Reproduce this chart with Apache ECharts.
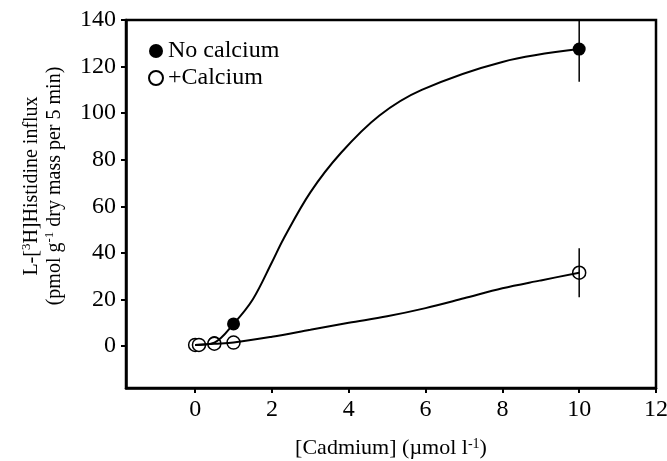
<!DOCTYPE html>
<html>
<head>
<meta charset="utf-8">
<script src="https://cdn.jsdelivr.net/npm/echarts@6/dist/echarts.min.js"></script>
<style>
  html, body { margin: 0; padding: 0; background: #fff; }
  #chart { width: 667px; height: 461px; }
</style>
</head>
<body>
<div id="chart"></div>
<script>
// axis ticks
var xTicks = [0, 2, 4, 6, 8, 10, 12];
var yTicks = [0, 20, 40, 60, 80, 100, 120, 140];

var noCaX = [0, 0.1, 0.5, 1, 10];
var noCaY = [0.5, 0.5, 1.5, 9.5, 127.5];
var caX = [0, 0.1, 0.5, 1, 10];
var caY = [0.5, 0.5, 1, 1.5, 31.5];

// error bars at 10 umol
var errX = [10, 10];
var errMean = [127.5, 31.5];
var errSd = [14, 10.5];

// fitted curves
var noCaCurveX = [0, 0.5, 1, 1.5, 2, 2.3, 3, 3.8, 4.8, 5.9, 8, 10];
var noCaCurveY = [0.5, 1.5, 9.5, 20, 36, 46, 66, 83, 99, 110, 122, 127.5];
var caCurveX = [0, 0.5, 1, 2, 3, 4, 5, 6, 7, 8, 9, 10];
var caCurveY = [0.5, 1, 1.5, 4, 7, 10, 12.8, 16.3, 20.5, 24.8, 28.2, 31.5];

var xMin = -1.8, xMax = 12, yMin = -18, yMax = 140;

function pairs(xs, ys){
    var out = [];
    for(var i=0;i<xs.length;i++){
        out.push([xs[i], ys[i]]);
    }
    return out;
}

var errData = [];
for(var j=0;j<errX.length;j++){
    errData.push([errX[j], errMean[j]-errSd[j], Math.min(yMax, errMean[j]+errSd[j])]);
}

var serif = 'Liberation Serif';
var chart = echarts.init(document.getElementById('chart'));
var option = {
    animation: false,
    backgroundColor: '#fff',
    grid: {
        left: 126, right: 11, top: 20, bottom: 73,
        outerBoundsMode: 'none', containLabel: false,
        show: true, borderColor: '#000', borderWidth: 2.5
    },
    legend: {
        orient: 'vertical',
        left: 143, top: 34,
        itemWidth: 14, itemHeight: 14, itemGap: 3, itemTextGap: 14,
        textStyle: { fontFamily: serif, fontSize: 24, color: '#000' },
        data: [
            { name: 'No calcium', icon: 'circle' },
            { name: '+Calcium', icon: 'circle' }
        ]
    },
    xAxis: {
        type: 'value', min: xMin, max: xMax,
        name: '{a|[Cadmium] (\u00b5mol l}{s|-1}{a|)}',
        nameLocation: 'middle', nameGap: 49,
        nameTextStyle: {
            rich: {
                a: { fontFamily: serif, fontSize: 22, color: '#000' },
                s: { fontFamily: serif, fontSize: 14, color: '#000', verticalAlign: 'top' }
            }
        },
        axisLine: { onZero: false, lineStyle: { color: '#000', width: 2.5 } },
        axisTick: { length: 5, lineStyle: { color: '#000', width: 2 }, customValues: xTicks },
        axisLabel: { margin: 10, fontFamily: serif, fontSize: 24, color: '#000', customValues: xTicks },
        splitLine: { show: false }
    },
    yAxis: {
        type: 'value', min: yMin, max: yMax,
        name: '{a|L-[}{s|3}{a|H]Histidine influx}\n{a|(pmol g}{s|-1}{a| dry mass per 5 min)}',
        nameLocation: 'middle', nameRotate: 90, nameGap: 60,
        nameTextStyle: {
            align: 'center',
            padding: [0, 0, 0, 36],
            rich: {
                a: { fontFamily: serif, fontSize: 20, color: '#000', lineHeight: 23 },
                s: { fontFamily: serif, fontSize: 13, color: '#000', verticalAlign: 'top', lineHeight: 23 }
            }
        },
        axisLine: { onZero: false, lineStyle: { color: '#000', width: 2.5 } },
        axisTick: { length: 5, lineStyle: { color: '#000', width: 2 }, customValues: yTicks },
        axisLabel: { margin: 10, fontFamily: serif, fontSize: 24, color: '#000', customValues: yTicks },
        splitLine: { show: false }
    },
    series: [
        {
            name: 'No calcium', type: 'scatter', data: pairs(noCaX, noCaY),
            symbol: 'circle', symbolSize: 13, z: 2,
            itemStyle: { color: '#000', opacity: 1 }
        },
        {
            name: '+Calcium', type: 'scatter', data: pairs(caX, caY),
            symbol: 'circle', symbolSize: 13, z: 3,
            itemStyle: { color: '#fff', borderColor: '#000', borderWidth: 1.5, opacity: 1 }
        },
        {
            type: 'line', data: pairs(noCaCurveX, noCaCurveY), smooth: 0.35,
            showSymbol: false, symbol: 'none', lineStyle: { color: '#000', width: 2 }, z: 4
        },
        {
            type: 'line', data: pairs(caCurveX, caCurveY), smooth: 0.35,
            showSymbol: false, symbol: 'none', lineStyle: { color: '#000', width: 2 }, z: 4
        },
        {
            type: 'custom', data: errData, z: 4,
            renderItem: function(params, api){
                var p1 = api.coord([api.value(0), api.value(1)]);
                var p2 = api.coord([api.value(0), api.value(2)]);
                return {
                    type: 'line',
                    shape: { x1: p1[0], y1: p1[1], x2: p2[0], y2: p2[1] },
                    style: { stroke: '#000', lineWidth: 1.5 }
                };
            }
        }
    ]
};
chart.setOption(option);
</script>
</body>
</html>
